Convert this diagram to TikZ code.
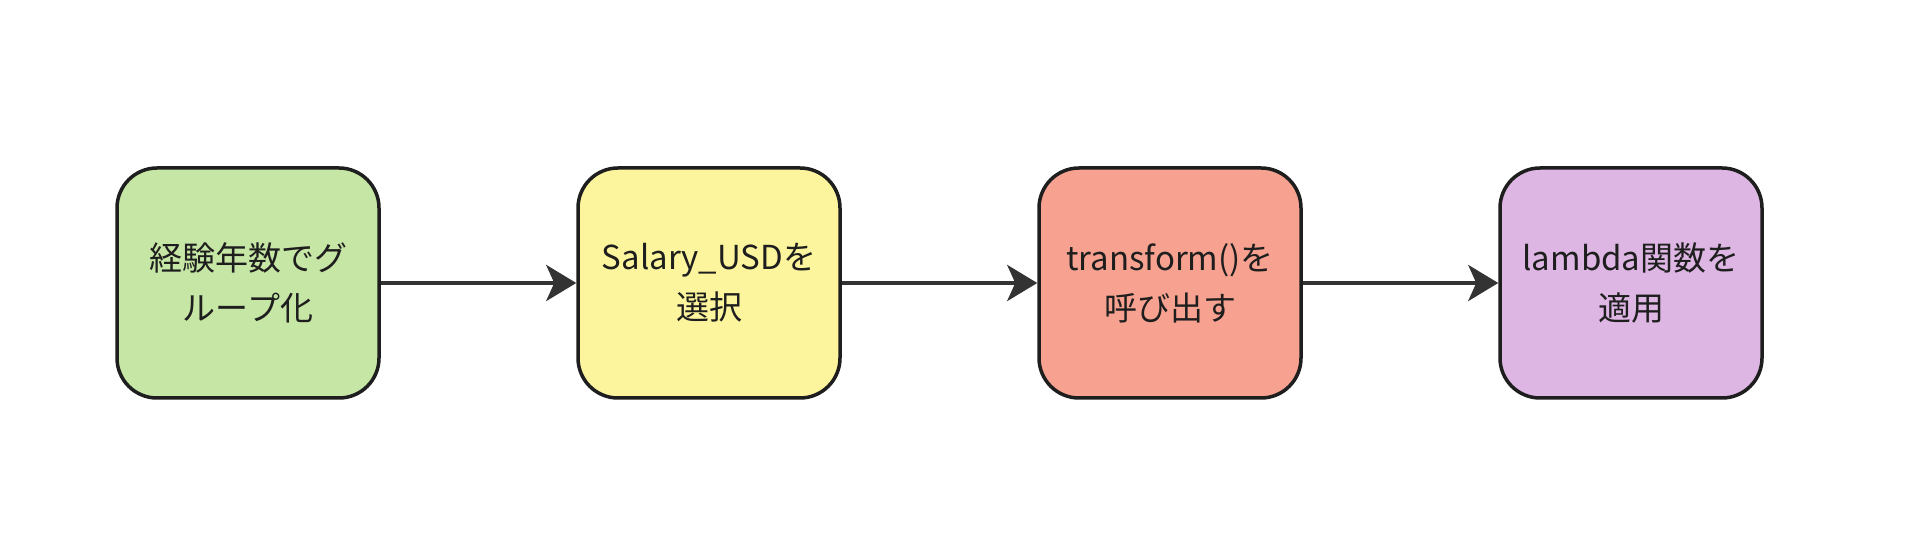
\documentclass[tikz,border=0pt]{standalone}
\usepackage{fontspec}
\setmainfont{Noto Sans CJK JP}
\usepackage{tikz}
\usetikzlibrary{positioning, arrows.meta}
\definecolor{grp}{HTML}{C6E6A5}
\definecolor{sel}{HTML}{FDF59D}
\definecolor{trf}{HTML}{F7A290}
\definecolor{lam}{HTML}{DDB6E3}
\definecolor{edge}{HTML}{333333}
\definecolor{ink}{HTML}{1E1E1E}
\tikzset{
  box/.style = {draw = ink, line width = 3.5pt, rounded corners = 40pt,
    minimum width = 262pt, minimum height = 230pt, align = center,
    text = ink, font = \fontsize{33}{50}\selectfont},
  arr/.style = {line width = 4pt, color = edge,
    -{Stealth[length = 30pt, width = 36pt, inset = 8pt]}}
}

\begin{document}
\begin{tikzpicture}[x = 1pt, y = 1pt, node distance = 195.5pt]
\useasboundingbox[fill = white] (0, 0) rectangle (1912, 544);

\node[box, fill = grp] (grp) at (248, 261) {経験年数でグ\\ループ化};
\node[box, fill = sel, right = of grp] (sel) {Salary\_USDを\\選択};
\node[box, fill = trf, right = of sel] (trf) {transform()を\\呼び出す};
\node[box, fill = lam, right = of trf] (lam) {lambda関数を\\適用};

\foreach \i/\j in {grp/sel, sel/trf, trf/lam}
\draw[arr] (\i) -- (\j);

\end{tikzpicture}
\end{document}
